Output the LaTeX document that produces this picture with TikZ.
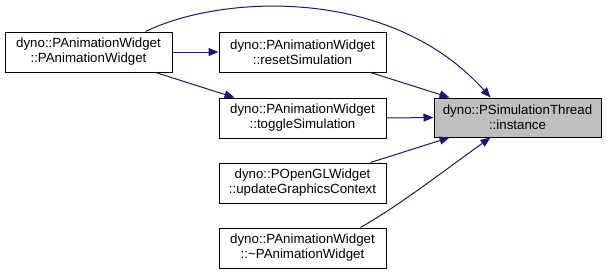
\documentclass[tikz,border=0pt]{standalone}
\usepackage{fontspec}
\setmainfont{Liberation Sans}
\usetikzlibrary{arrows.meta,calc}
\definecolor{edgeblue}{HTML}{191970}
\definecolor{hilite}{HTML}{BFBFBF}
\begin{document}
\begin{tikzpicture}[x=1pt,y=-1pt,
  fn/.style={draw=black, fill=white, line width=1pt, minimum width=167pt, minimum height=40pt,
    inner sep=0pt, align=center, font=\fontsize{13.3}{15}\selectfont},
  calls/.style={draw=edgeblue, line width=1pt, -{Triangle[length=10pt,width=8pt]}}]
  \useasboundingbox (0,0) rectangle (607,274);
  \node[fn] (A) at (88.5,52) {dyno::PAnimationWidget\\::PAnimationWidget};
  \node[fn] (B) at (302.5,52) {dyno::PAnimationWidget\\::resetSimulation};
  \node[fn] (C) at (302.5,118) {dyno::PAnimationWidget\\::toggleSimulation};
  \node[fn] (D) at (302.5,183) {dyno::POpenGLWidget\\::updateGraphicsContext};
  \node[fn] (E) at (302.5,248) {dyno::PAnimationWidget\\::\textasciitilde PAnimationWidget};
  \node[fn, fill=hilite, minimum height=39pt] (F) at (517.5,117.5) {dyno::PSimulationThread\\::instance};
  % call edges
  \draw[calls] ($(A.north east)+(-27,0)$) .. controls (220,-5) and (390,-15) .. ($(F.north)+(-27,0)$);
  \draw[calls] (A.east) -- (B.west);
  \draw[calls] ($(A.south east)+(-17,0)$) -- ($(C.north west)+(16,0)$);
  \draw[calls] ($(B.south east)+(-16,0)$) -- ($(F.north west)+(16,0)$);
  \draw[calls] (C.east) -- (F.west);
  \draw[calls] ($(D.north east)+(-16,0)$) -- ($(F.south west)+(16,0)$);
  \draw[calls] ($(E.north east)+(-26,0)$) .. controls (400,205) and (445,170) .. ($(F.south)+(-27,0)$);
\end{tikzpicture}
\end{document}
